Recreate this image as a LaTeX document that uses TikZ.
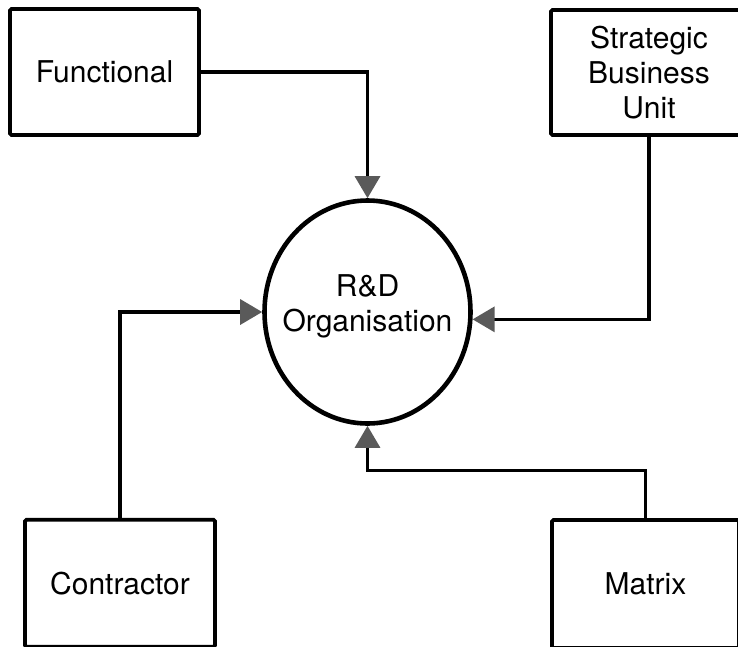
\documentclass[tikz,border=0pt]{standalone}
\usepackage{fontspec}
\setmainfont{TeX Gyre Heros}
\usetikzlibrary{arrows.meta,shapes.geometric}
\definecolor{tipgray}{HTML}{5A5A5A}
\begin{document}
\begin{tikzpicture}[x=1pt,y=-1pt,
  box/.style={draw=black, line width=3.6pt, rounded corners=1.5pt, fill=white,
    font=\fontsize{30}{35}\selectfont, align=center, inner sep=0pt},
  hub/.style={ellipse, draw=black, line width=4.6pt, fill=white,
    minimum width=206pt, minimum height=223pt, inner sep=0pt},
  hubtext/.style={font=\fontsize{30}{35}\selectfont, align=center, inner sep=0pt},
  link/.style={draw=black, line width=3.2pt,
    -{Triangle[width=25pt,length=22pt,color=tipgray]}}
]
\useasboundingbox (0,0) rectangle (738,646);
\clip (0,0) rectangle (738,646);

% central organisation
\node[hub] (rd) at (367.5,312) {};
\node[hubtext] (rdtext) at (367.5,306.5) {R\&D\\Organisation};

% surrounding structures
\node[box, minimum width=189pt, minimum height=126pt] (func) at (104.5,72) {Functional};
\node[box, minimum width=196pt, minimum height=125pt] (sbu) at (649,72.5) {Strategic\\Business\\Unit};
\node[box, minimum width=190pt, minimum height=127pt] (con) at (120,583.25) {Contractor};
\node[box, minimum width=187pt, minimum height=128pt] (mat) at (645.5,584) {Matrix};

% links into the organisation
\draw[link] (func.east) -| (rd.north);
\draw[link] (sbu.south) |- (rd.-4);
\draw[link] (con.north) |- (rd.west);
\draw[link] (mat.north) -- ++(0,-48) -| (rd.south);
\end{tikzpicture}
\end{document}
